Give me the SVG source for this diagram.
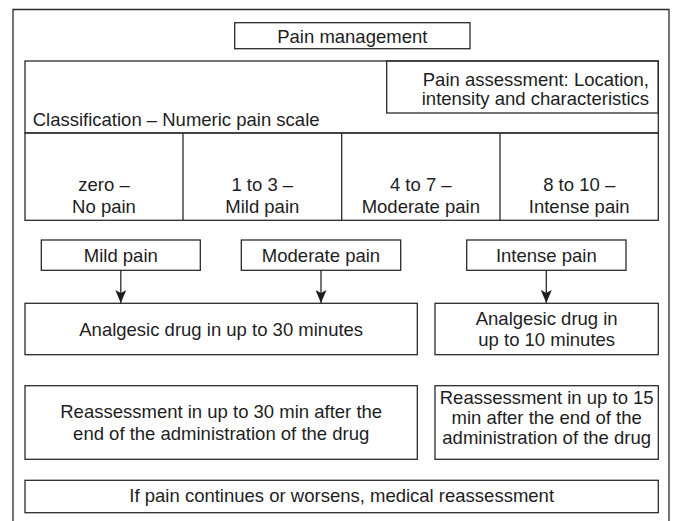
<svg xmlns="http://www.w3.org/2000/svg" width="673" height="521" viewBox="0 0 673 521">
<style>
rect,line.b{fill:none;stroke:#2b2b2b;stroke-width:1.3}
text{font-family:"Liberation Sans",Arial,sans-serif;font-size:18.5px;fill:#1e1e1e;text-anchor:middle}
.c{stroke:#2b2b2b;stroke-width:1.3;fill:none}
</style>
<defs>
<marker id="ah" markerWidth="13" markerHeight="11" refX="13" refY="5.5" orient="auto" markerUnits="userSpaceOnUse" viewBox="0 0 13 11">
<path d="M0,0 L13,5.5 L0,11 L3,5.5 Z" fill="#1e1e1e"/>
</marker>
</defs>
<rect x="0" y="0" width="673" height="521" style="stroke:none;fill:#fff"/>
<g id="frame"><path d="M13,522 V9.5 H669 V522" class="c"/></g>
<g id="pain-management"><rect x="234.7" y="22.7" width="235.3" height="26"/><text x="352.3" y="43">Pain management</text></g>
<g id="classification"><rect x="25" y="61" width="633.3" height="72"/><text x="32.7" y="126" style="text-anchor:start">Classification – Numeric pain scale</text></g>
<g id="pain-assessment"><rect x="386.7" y="61" width="271.6" height="52"/><text x="649" y="86" style="text-anchor:end">Pain assessment: Location,</text><text x="649" y="105" style="text-anchor:end">intensity and characteristics</text></g>
<g id="scale">
<rect x="25" y="133" width="633.3" height="87.3"/>
<line class="b" x1="183" y1="133" x2="183" y2="220.3"/>
<line class="b" x1="341.7" y1="133" x2="341.7" y2="220.3"/>
<line class="b" x1="500" y1="133" x2="500" y2="220.3"/>
</g>
<g id="cell-zero"><text x="104" y="191">zero –</text><text x="104" y="212.5">No pain</text></g>
<g id="cell-mild"><text x="262.3" y="191">1 to 3 –</text><text x="262.3" y="212.5">Mild pain</text></g>
<g id="cell-moderate"><text x="420.8" y="191">4 to 7 –</text><text x="420.8" y="212.5">Moderate pain</text></g>
<g id="cell-intense"><text x="579.2" y="191">8 to 10 –</text><text x="579.2" y="212.5">Intense pain</text></g>
<g id="mild-pain"><rect x="41.3" y="240" width="159" height="30.3"/><text x="120.8" y="261.7">Mild pain</text></g>
<g id="moderate-pain"><rect x="241.3" y="240" width="159.4" height="30.3"/><text x="321" y="261.7">Moderate pain</text></g>
<g id="intense-pain"><rect x="466.7" y="240" width="159.3" height="30.3"/><text x="546.3" y="261.7">Intense pain</text></g>
<g id="analgesic-30"><rect x="25" y="303.3" width="392.3" height="51.4"/><text x="221.2" y="335.5">Analgesic drug in up to 30 minutes</text></g>
<g id="analgesic-10"><rect x="435" y="303.3" width="223.3" height="51.4"/><text x="546.7" y="325">Analgesic drug in</text><text x="546.7" y="345.7">up to 10 minutes</text></g>
<g id="reassess-30"><rect x="25" y="385.7" width="392.3" height="73.6"/><text x="221.2" y="418.3">Reassessment in up to 30 min after the</text><text x="221.2" y="440">end of the administration of the drug</text></g>
<g id="reassess-15"><rect x="435" y="385.7" width="223.3" height="73.6"/><text x="546.7" y="404">Reassessment in up to 15</text><text x="546.7" y="424.2">min after the end of the</text><text x="546.7" y="444.4">administration of the drug</text></g>
<g id="medical-reassessment"><rect x="25" y="480.3" width="633.3" height="32.4"/><text x="341.7" y="502">If pain continues or worsens, medical reassessment</text></g>
<g id="connectors">
<line class="c" x1="120.8" y1="270.3" x2="120.8" y2="303" marker-end="url(#ah)"/>
<line class="c" x1="321" y1="270.3" x2="321" y2="303" marker-end="url(#ah)"/>
<line class="c" x1="546.3" y1="270.3" x2="546.3" y2="303" marker-end="url(#ah)"/>
</g>
</svg>
